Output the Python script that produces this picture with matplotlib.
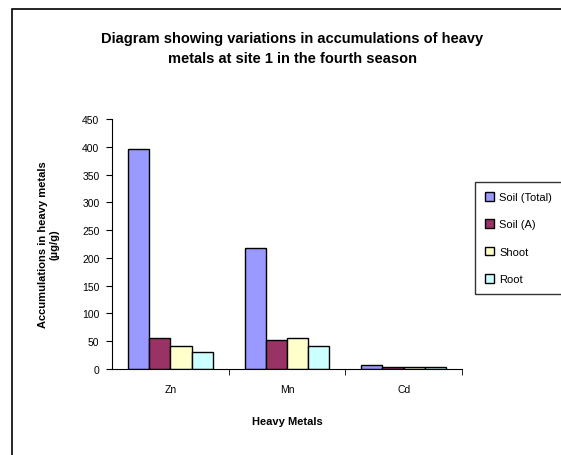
import numpy as np
import matplotlib.pyplot as plt
from matplotlib.patches import Rectangle

plt.rcParams['font.family'] = ['Liberation Sans', 'DejaVu Sans']

metals = ['Zn', 'Mn', 'Cd']
series = ['Soil (Total)', 'Soil (A)', 'Shoot', 'Root']
soil_total = [396, 218, 8]
soil_a = [55, 52, 3]
shoot = [42, 56, 3]
root = [30, 42, 3]
colors = ['#9999FF', '#993366', '#FFFFCC', '#CCFFFF']

W, H = 561, 456
fig = plt.figure(figsize=(W / 100, H / 100), dpi=100)

# outer chart border
fig.patches.append(Rectangle((12 / W, -0.05), 1.0, 1 - 10 / H + 0.05,
                             transform=fig.transFigure, fill=False,
                             edgecolor='black', linewidth=1.2))

# axes box in pixels: left 112, right 462, top 120, bottom 370
ax = fig.add_axes([112 / W, 1 - 370 / H, 350 / W, 250 / H])

x = np.arange(len(metals))
bw = 1 / 5.5
data = [soil_total, soil_a, shoot, root]
for i, (vals, lab, c) in enumerate(zip(data, series, colors)):
    ax.bar(x + (i - 1.5) * bw, vals, bw, color=c, edgecolor='black',
           linewidth=1.0, label=lab)

ax.set_xlim(-0.5, 2.5)
ax.set_ylim(0, 450)
ax.set_yticks(range(0, 451, 50))
ax.set_xticks(x)
ax.set_xticklabels(metals, fontsize=7.5)
ax.set_xticks([0.5, 1.5, 2.5], minor=True)
ax.tick_params(axis='x', which='major', length=0, pad=11)
ax.tick_params(axis='x', which='minor', length=4, direction='out')
ax.tick_params(axis='y', labelsize=7.5, length=4, direction='out', pad=5)
for s in ['top', 'right']:
    ax.spines[s].set_visible(False)

ax.set_xlabel('Heavy Metals', fontsize=8, fontweight='bold', labelpad=16)
ax.set_ylabel('Accumulations in heavy metals\n(\u00b5g/g)', fontsize=8,
              fontweight='bold', labelpad=16)

fig.text(292 / W, 1 - 49 / H,
         'Diagram showing variations in accumulations of heavy\nmetals at site 1 in the fourth season',
         ha='center', va='center', fontsize=10.5, fontweight='bold', linespacing=1.5)

leg = ax.legend(loc='upper left', bbox_to_anchor=(475 / W, 1 - 183 / H),
                bbox_transform=fig.transFigure, fontsize=8, frameon=True,
                fancybox=False, edgecolor='black', handlelength=0.8,
                handleheight=0.8, handletextpad=0.5, labelspacing=1.55,
                borderpad=0.9, borderaxespad=0)
leg.get_frame().set_linewidth(1.0)

fig.savefig('out.png', dpi=100)
